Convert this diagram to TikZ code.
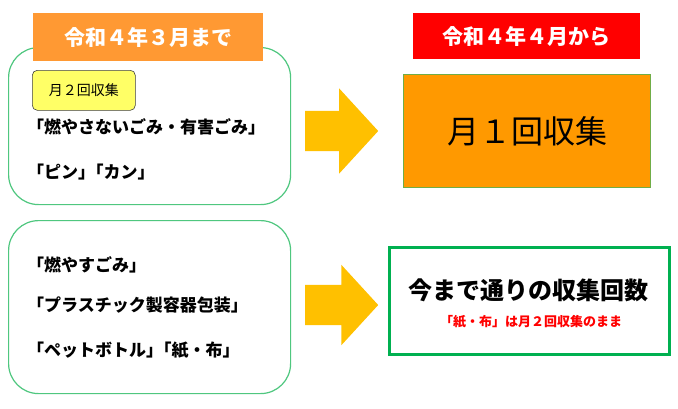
\documentclass[tikz,border=0pt]{standalone}
\usepackage{fontspec}
\setmainfont{Noto Sans CJK JP}
\usepackage{tikz}
\usetikzlibrary{positioning, shapes.arrows}
\definecolor{greenl}{HTML}{4FC77F}
\definecolor{greend}{HTML}{00B050}
\definecolor{greenb}{HTML}{70AD47}
\definecolor{orangeh}{HTML}{FF9933}
\definecolor{orangef}{HTML}{FF9900}
\definecolor{goldf}{HTML}{FFC000}
\definecolor{yellowt}{HTML}{FFFF66}
\definecolor{redh}{HTML}{FF0000}
\newcommand{\brk}{\hspace{-0.5em}}
\tikzset{
  grp/.style={draw=greenl, fill=white, line width=1.2pt, rounded corners=30pt,
              anchor=north west, inner sep=0pt},
  hdr/.style={anchor=north west, inner sep=0pt, text=white,
              font=\bfseries\fontsize{21pt}{25pt}\selectfont},
  tag/.style={draw=black!75, fill=yellowt, line width=0.6pt, rounded corners=5pt,
              anchor=north west, inner sep=0pt, font=\fontsize{14pt}{17pt}\selectfont},
  item/.style={anchor=west, inner sep=0pt, font=\bfseries\fontsize{17pt}{20pt}\selectfont},
  fwd/.style={single arrow, fill=goldf, inner sep=0pt, single arrow head indent=0pt,
              single arrow tip angle=95, minimum height=73pt, anchor=tail},
  res/.style={anchor=north west, inner sep=0pt},
}

\begin{document}
\begin{tikzpicture}[x=1pt, y=-1pt]
  \useasboundingbox (0,0) rectangle (678,408);
  % ---------------- until March ----------------
  \node[grp, minimum width=282pt, minimum height=157pt] (oldtop) at (8,47) {};
  \node[hdr, fill=orangeh, minimum width=230pt, minimum height=48pt] (hdrold) at (33,13) {令和４年３月まで};
  \node[tag, minimum width=103pt, minimum height=40pt] (twice) at (32,70) {月２回収集};
  \node[item] (ita) at (27,127) {「燃やさないごみ・有害ごみ」};
  \node[item] (itb) at (27,172) {「ピン」\brk「カン」};

  \node[grp, minimum width=282pt, minimum height=173pt] (oldbot) at (8,220) {};
  \node[item] (itc) at (27,265) {「燃やすごみ」};
  \node[item] (itd) at (27,305) {「プラスチック製容器包装」};
  \node[item] (ite) at (27,350) {「ペットボトル」\brk「紙・布」};

  % ---------------- arrows ----------------
  \node[fwd, single arrow head extend=22.5pt] (fwda) at (305,131) {\rule{0pt}{40pt}};
  \node[fwd, single arrow head extend=20pt] (fwdb) at (305,305) {\rule{0pt}{40pt}};

  % ---------------- from April ----------------
  \node[hdr, fill=redh, minimum width=227pt, minimum height=46pt] (hdrnew) at (413,13) {令和４年４月から};
  \node[res, draw=greenb, fill=orangef, line width=1pt, minimum width=247pt, minimum height=113pt,
        font=\fontsize{32pt}{36pt}\selectfont] (once) at (403,74) {月１回収集};
  \node[res, draw=greend, fill=white, line width=3pt, minimum width=280pt, minimum height=107pt] (same) at (388,246) {};
  \node[font=\bfseries\fontsize{24pt}{28pt}\selectfont, inner sep=0pt] (samet) at (528,290) {今まで通りの収集回数};
  \node[font=\bfseries\fontsize{13pt}{15pt}\selectfont, text=redh, inner sep=0pt] (samen) at (531,322)
    {「紙・布」は月２回収集のまま};
\end{tikzpicture}
\end{document}
